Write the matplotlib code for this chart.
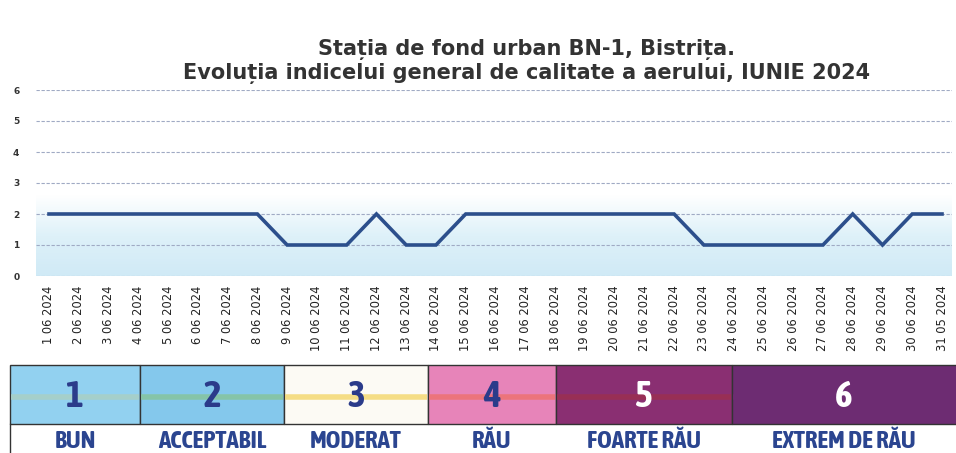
import matplotlib
matplotlib.use("Agg")
import matplotlib.pyplot as plt
import numpy as np
from matplotlib.patches import Rectangle
from matplotlib.colors import LinearSegmentedColormap
from matplotlib import font_manager

# ---- data ----
dates = ["1 06 2024", "2 06 2024", "3 06 2024", "4 06 2024", "5 06 2024", "6 06 2024",
         "7 06 2024", "8 06 2024", "9 06 2024", "10 06 2024", "11 06 2024", "12 06 2024",
         "13 06 2024", "14 06 2024", "15 06 2024", "16 06 2024", "17 06 2024", "18 06 2024",
         "19 06 2024", "20 06 2024", "21 06 2024", "22 06 2024", "23 06 2024", "24 06 2024",
         "25 06 2024", "26 06 2024", "27 06 2024", "28 06 2024", "29 06 2024", "30 06 2024",
         "31 05 2024"]
index_values = [2, 2, 2, 2, 2, 2, 2, 2, 1, 1, 1, 2, 1, 1, 2, 2, 2, 2, 2, 2, 2, 2,
                1, 1, 1, 1, 1, 2, 1, 2, 2]
y_ticks = [0, 1, 2, 3, 4, 5, 6]

legend_numbers = ["1", "2", "3", "4", "5", "6"]
legend_labels = ["BUN", "ACCEPTABIL", "MODERAT", "RĂU", "FOARTE RĂU", "EXTREM DE RĂU"]
legend_colors = ["#92d1f0", "#84c8ec", "#fcfaf4", "#e784b9", "#8a2f72", "#6d2c72"]
legend_stripe = ["#a9cfc4", "#86c49c", "#f4d872", "#ee7270", "#9b3050", "#6d2c72"]
legend_numcolor = ["#2b3b8a", "#2b3b8a", "#2b3b8a", "#2b3b8a", "#ffffff", "#ffffff"]

# pick a condensed face if one is installed
cond_family = None
for f in font_manager.fontManager.ttflist:
    if "Condensed" in f.name or "Narrow" in f.name:
        if f.weight in ("bold", 700) or "Bold" in f.fname:
            cond_family = f.name
            break
if cond_family is None:
    for f in font_manager.fontManager.ttflist:
        if f.name == "DejaVu Sans" and f.stretch == "condensed":
            cond_family = "DejaVu Sans"
            break
cond_kw = dict(family=[cond_family or "DejaVu Sans", "DejaVu Sans"], fontstretch="condensed")

W, H = 956, 453
fig = plt.figure(figsize=(W / 100, H / 100), dpi=100)
fig.patch.set_facecolor("white")

# ---- main chart ----
ax = fig.add_axes([36 / W, (H - 276) / H, (952 - 36) / W, (276 - 90) / H])
x = np.arange(1, len(index_values) + 1)
x_left = 1 - 13 / 29.77
x_right = len(index_values) + 10 / 29.77

# light blue background gradient near the bottom
cmap = LinearSegmentedColormap.from_list("bg", [(0.0, "#d0eaf6"), (0.5, "#def1f9"), (1.0, "#ffffff")])
grad = np.linspace(0, 1, 256).reshape(-1, 1)
ax.imshow(grad, extent=[x_left, x_right, 0, 2.6], origin="lower",
          cmap=cmap, vmin=0, vmax=1, aspect="auto", zorder=0, interpolation="bilinear")
ax.set_xlim(x_left, x_right)
ax.set_ylim(0, 6)

for yv in y_ticks:
    ax.axhline(yv, color="#a0aac4", lw=0.8, ls=(0, (3, 1.5)), zorder=1)

ax.plot(x, index_values, color="#2c4f8c", lw=2.6, solid_joinstyle="miter", zorder=3)

ax.set_yticks(y_ticks)
ax.set_yticklabels([str(v) for v in y_ticks], fontsize=6.5, fontweight="bold", color="#333333")
ax.set_xticks(x)
ax.set_xticklabels(dates, rotation=90, fontsize=8.3, color="#222222")
ax.tick_params(axis="both", length=0)
ax.tick_params(axis="y", pad=12)
ax.tick_params(axis="x", pad=7)
for s in ax.spines.values():
    s.set_visible(False)

fig.text(527 / W, (H - 50) / H, "Stația de fond urban BN-1, Bistrița.",
         ha="center", va="center", fontsize=15, fontweight="bold", color="#333333")
fig.text(527 / W, (H - 73) / H, "Evoluția indicelui general de calitate a aerului, IUNIE 2024",
         ha="center", va="center", fontsize=15, fontweight="bold", color="#333333")

# ---- legend bar ----
lg = fig.add_axes([0, 0, 1, 1])
lg.set_xlim(0, W)
lg.set_ylim(H, 0)
lg.axis("off")
bounds = [10, 140, 284, 428, 556, 732, 960]
top, mid = 365, 424
for i in range(6):
    x0, x1 = bounds[i], bounds[i + 1]
    lg.add_patch(Rectangle((x0, top), x1 - x0, mid - top, facecolor=legend_colors[i],
                           edgecolor="#333333", lw=1.0))
    lg.plot([x0 + 1, x1 - 1], [397, 397], color=legend_stripe[i], lw=4, alpha=0.85,
            solid_capstyle="butt")
    cx = (x0 + min(x1, W)) / 2
    lg.text(cx, 397, legend_numbers[i], ha="center", va="center", fontsize=27,
            fontweight="bold", color=legend_numcolor[i], **cond_kw)
    lg.text(cx, 442, legend_labels[i], ha="center", va="center", fontsize=18,
            fontweight="bold", color="#2b4590", **cond_kw)
lg.plot([10, 10], [mid, H], color="#333333", lw=1.0)

fig.savefig("out.png", dpi=100, facecolor="white")
